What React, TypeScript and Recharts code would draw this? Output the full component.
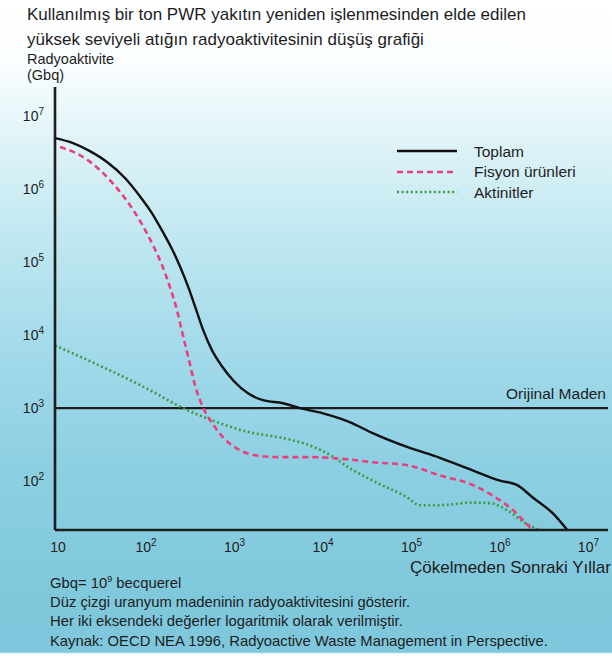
import React from 'react';
import { LineChart, Line, XAxis, YAxis, ReferenceLine, Legend } from 'recharts';

// years after disposal / activity in Gbq
const toplamYears = [10, 16, 24.8, 38.7, 61.8, 91.2, 125, 166, 210, 258, 318, 392, 483, 594, 771, 1054, 1517, 2240, 3770, 5890, 10700, 21400, 38900, 95500, 224000, 525000, 1070000, 1660000, 2510000, 4270000, 6170000];
const toplamGbq = [5.0e6, 4.27e6, 3.31e6, 2.35e6, 1.42e6, 7.97e5, 4.66e5, 2.57e5, 1.51e5, 8.81e4, 4.69e4, 2.27e4, 1.1e4, 6240, 3760, 2340, 1600, 1288, 1170, 1000, 851, 646, 457, 295, 209, 141, 102, 89, 60, 36, 21.5];

const fisyonYears = [11.4, 19.1, 32.2, 50.1, 70.3, 96.1, 128, 162, 199, 239, 279, 327, 382, 470, 610, 832, 1230, 1820, 3240, 7590, 19950, 38900, 95500, 224000, 525000, 977000, 1510000, 2140000, 2510000];
const fisyonGbq = [3.76e6, 2.92e6, 1.82e6, 1.03e6, 6.03e5, 3.31e5, 1.71e5, 9.1e4, 4.57e4, 2.2e4, 1.0e4, 4550, 2070, 1030, 603, 376, 266, 227, 214, 214, 200, 182, 166, 120, 89, 59, 40, 26, 21.5];

const aktinitYears = [10, 117, 282, 676, 1585, 3800, 7590, 12900, 21400, 38900, 95500, 132000, 224000, 525000, 832000, 1290000, 2140000, 3020000];
const aktinitGbq = [7244, 1778, 1000, 646, 468, 389, 309, 229, 151, 102, 60, 47, 47, 51, 50, 40, 26, 21.5];

const orijinalMaden = 1000;

const xTicks = [10, 100, 1e3, 1e4, 1e5, 1e6, 1e7];
const yTicks = [100, 1e3, 1e4, 1e5, 1e6, 1e7];

const toplamData = toplamYears.map((x, i) => ({ x, y: toplamGbq[i] }));
const fisyonData = fisyonYears.map((x, i) => ({ x, y: fisyonGbq[i] }));
const aktinitData = aktinitYears.map((x, i) => ({ x, y: aktinitGbq[i] }));

const FONT = '"Liberation Sans", Arial, Helvetica, sans-serif';
const INK = '#1d1d1d';

const seriesStyle: Record<string, { stroke: string; dash?: string; width: number }> = {
  Toplam: { stroke: '#111111', width: 2.4 },
  'Fisyon ürünleri': { stroke: '#e8407c', dash: '6 4', width: 2.6 },
  Aktinitler: { stroke: '#3f9a44', dash: '2 2.6', width: 2.6 },
};
const legendOrder = ['Toplam', 'Fisyon ürünleri', 'Aktinitler'];

function PowerTick({ x, y, payload, axis }: any) {
  const exp = Math.round(Math.log10(payload.value));
  if (axis === 'x') {
    if (exp === 1) {
      return (
        <text x={x + 3} y={y + 14} textAnchor="middle" fontSize={14} fill={INK} fontFamily={FONT}>10</text>
      );
    }
    return (
      <text x={x - 8} y={y + 14} textAnchor="start" fontSize={14} fill={INK} fontFamily={FONT}>
        10<tspan dy={-6} fontSize={10}>{exp}</tspan>
      </text>
    );
  }
  return (
    <text x={44} y={y + 5} textAnchor="end" fontSize={14} fill={INK} fontFamily={FONT}>
      10<tspan dy={-6} fontSize={10}>{exp}</tspan>
    </text>
  );
}

function LegendBox({ payload }: any) {
  const items = [...(payload || [])].sort(
    (a: any, b: any) => legendOrder.indexOf(a.value) - legendOrder.indexOf(b.value)
  );
  return (
    <div style={{ fontFamily: FONT, fontSize: 15.5, color: INK, lineHeight: 1 }}>
      {items.map((p: any) => {
        const s = seriesStyle[p.value];
        return (
          <div key={p.value} style={{ display: 'flex', alignItems: 'center', height: 20.5 }}>
            <svg width={62} height={8} style={{ marginRight: 16 }}>
              <line x1={1} y1={4} x2={61} y2={4} stroke={s.stroke} strokeWidth={s.width} strokeDasharray={s.dash} />
            </svg>
            <span>{p.value}</span>
          </div>
        );
      })}
    </div>
  );
}

function MadenLabel({ viewBox }: any) {
  return (
    <text x={606} y={viewBox.y - 9} textAnchor="end" fontSize={15.5} fill={INK} fontFamily={FONT}>
      Orijinal Maden
    </text>
  );
}

const textStyle: React.CSSProperties = {
  position: 'absolute',
  whiteSpace: 'nowrap',
  lineHeight: 1,
  fontFamily: FONT,
  color: INK,
};

export default function App() {
  return (
    <div
      style={{
        position: 'absolute',
        left: 0,
        top: 0,
        width: 612,
        height: 663,
        overflow: 'hidden',
        background:
          'linear-gradient(to bottom, #ffffff 0px, #fbfeff 60px, #dcf2f7 150px, #bce6f0 250px, #a0d9e9 360px, #8ccfe2 470px, #7fc8dc 600px, #7ec7dc 652px, #ffffff 654px)',
      }}
    >
      <div style={{ ...textStyle, left: 27, top: 6, fontSize: 17 }}>
        Kullanılmış bir ton PWR yakıtın yeniden işlenmesinden elde edilen
      </div>
      <div style={{ ...textStyle, left: 27, top: 31, fontSize: 17 }}>
        yüksek seviyeli atığın radyoaktivitesinin düşüş grafiği
      </div>
      <div style={{ ...textStyle, left: 27, top: 52, fontSize: 14.5 }}>Radyoaktivite</div>
      <div style={{ ...textStyle, left: 27, top: 68, fontSize: 14.5 }}>(Gbq)</div>

      <div style={{ position: 'absolute', left: 0, top: 0 }}>
        <LineChart width={612} height={663} margin={{ top: 87, right: 4, bottom: 0, left: 0 }}>
          <XAxis
            type="number"
            dataKey="x"
            scale="log"
            domain={[10, 1.78e7]}
            allowDataOverflow
            ticks={xTicks}
            tick={(props: any) => <PowerTick {...props} axis="x" />}
            tickLine={false}
            axisLine={{ stroke: INK, strokeWidth: 2.6 }}
            height={133}
            interval={0}
          />
          <YAxis
            type="number"
            dataKey="y"
            scale="log"
            domain={[21.5, 2.5e7]}
            allowDataOverflow
            ticks={yTicks}
            tick={(props: any) => <PowerTick {...props} axis="y" />}
            tickLine={false}
            axisLine={{ stroke: INK, strokeWidth: 2.6 }}
            width={55}
            interval={0}
          />
          <ReferenceLine y={orijinalMaden} stroke={INK} strokeWidth={2.2} label={<MadenLabel />} />
          <Line
            data={aktinitData}
            dataKey="y"
            name="Aktinitler"
            type="monotone"
            stroke={seriesStyle.Aktinitler.stroke}
            strokeWidth={seriesStyle.Aktinitler.width}
            strokeDasharray={seriesStyle.Aktinitler.dash}
            dot={false}
            isAnimationActive={false}
          />
          <Line
            data={fisyonData}
            dataKey="y"
            name="Fisyon ürünleri"
            type="monotone"
            stroke={seriesStyle['Fisyon ürünleri'].stroke}
            strokeWidth={seriesStyle['Fisyon ürünleri'].width}
            strokeDasharray={seriesStyle['Fisyon ürünleri'].dash}
            dot={false}
            isAnimationActive={false}
          />
          <Line
            data={toplamData}
            dataKey="y"
            name="Toplam"
            type="monotone"
            stroke={seriesStyle.Toplam.stroke}
            strokeWidth={seriesStyle.Toplam.width}
            dot={false}
            isAnimationActive={false}
          />
          <Legend
            layout="horizontal"
            verticalAlign="middle"
            align="center"
            content={(props: any) => <LegendBox payload={props.payload} />}
            wrapperStyle={{ position: 'absolute', left: 396, top: 141, width: 'auto', bottom: 'auto' }}
          />
        </LineChart>
      </div>

      <div style={{ ...textStyle, right: 1, top: 559, fontSize: 17 }}>Çökelmeden Sonraki Yıllar</div>
      <div style={{ ...textStyle, left: 50, top: 576, fontSize: 14.8 }}>
        Gbq= 10<sup style={{ fontSize: 9, verticalAlign: 'top', position: 'relative', top: -1 }}>9</sup> becquerel
      </div>
      <div style={{ ...textStyle, left: 50, top: 595, fontSize: 14.8 }}>
        Düz çizgi uranyum madeninin radyoaktivitesini gösterir.
      </div>
      <div style={{ ...textStyle, left: 50, top: 614, fontSize: 14.8 }}>
        Her iki eksendeki değerler logaritmik olarak verilmiştir.
      </div>
      <div style={{ ...textStyle, left: 50, top: 634, fontSize: 14.8 }}>
        Kaynak: OECD NEA 1996, Radyoactive Waste Management in Perspective.
      </div>
    </div>
  );
}
